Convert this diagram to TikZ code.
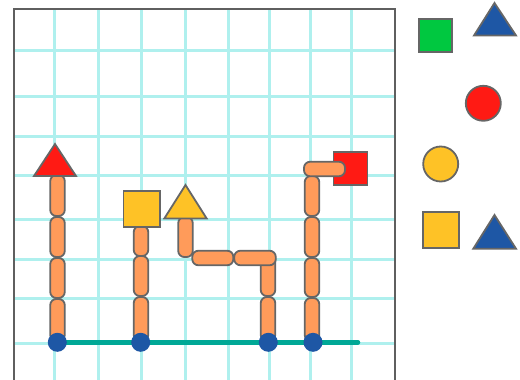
\documentclass[tikz,border=0pt]{standalone}
\definecolor{gridc}{RGB}{175,240,238}
\definecolor{framec}{RGB}{95,95,95}
\definecolor{edgec}{RGB}{102,102,102}
\definecolor{redc}{RGB}{255,26,20}
\definecolor{yelc}{RGB}{254,194,38}
\definecolor{orc}{RGB}{255,155,90}
\definecolor{bluec}{RGB}{30,87,165}
\definecolor{greenc}{RGB}{0,200,64}
\definecolor{tealc}{RGB}{0,168,150}
\tikzset{
  pillv/.style={draw=edgec,fill=orc,line width=1.8pt,rounded corners=6pt,minimum width=14.5pt,inner sep=0pt,outer sep=0pt},
  pillh/.style={draw=edgec,fill=orc,line width=1.8pt,rounded corners=6pt,minimum height=14.5pt,inner sep=0pt,outer sep=0pt},
  sq/.style={draw=edgec,line width=1.8pt,inner sep=0pt,outer sep=0pt},
  circ/.style={circle,draw=edgec,line width=1.8pt,inner sep=0pt,minimum size=35pt},
  tri/.style={draw=edgec,line width=1.8pt,line join=miter},
  dot/.style={circle,fill=bluec,inner sep=0pt,minimum size=19pt},
  gridline/.style={draw=gridc,line width=3pt}
}
\begin{document}
\begin{tikzpicture}[x=1pt,y=-1pt]
\useasboundingbox (0,0) rectangle (520,380);
% grid
\foreach \gx in {54,98,141,185,228,269,310,351}
  \draw[gridline] (\gx,9) -- (\gx,380);
\foreach \gy in {50,96,136,175,219,259,298,343}
  \draw[gridline] (14,\gy) -- (395,\gy);
% frame
\draw[framec,line width=2.6pt] (14,385) -- (14,9) -- (395,9) -- (395,385);
% teal baseline
\coordinate (t0) at (57,342.3);
\coordinate (t1) at (358,342.3);
\draw[tealc,line width=4.5pt,line cap=round] (t0) -- (t1);
% column 1
\node[pillv,minimum height=41pt] (a1) at (57.5,195.5) {};
\node[pillv,minimum height=40pt] (a2) at (57.5,237) {};
\node[pillv,minimum height=40pt] (a3) at (57.5,278) {};
\node[pillv,minimum height=42pt] (a4) at (57.5,320) {};
\draw[tri,fill=redc] (34,176) coordinate (r1) -- (55,144) coordinate (r2) -- (76,176) coordinate (r3) -- cycle;
% column 2
\node[pillv,minimum height=30pt] (b1) at (141,241) {};
\node[pillv,minimum height=40pt] (b2) at (141,276) {};
\node[pillv,minimum height=44pt] (b3) at (141,319) {};
\node[sq,fill=yelc,minimum size=36.5pt] (bs) at (141.8,209) {};
% yellow triangle branch
\node[pillv,minimum height=40pt] (c1) at (185.5,237) {};
\node[pillv,minimum height=44pt] (d1) at (268,274) {};
\node[pillv,minimum height=44pt] (d2) at (268,319) {};
\node[pillh,minimum width=41pt] (c2) at (212.8,258) {};
\node[pillh,minimum width=41.5pt] (c3) at (255,258) {};
\draw[tri,fill=yelc] (164.3,218.5) coordinate (y1) -- (185.5,185) coordinate (y2) -- (206.7,218.5) coordinate (y3) -- cycle;
% column 4
\node[sq,fill=redc,minimum width=34pt,minimum height=33.5pt] (es) at (350.5,168.5) {};
\node[pillv,minimum height=40pt] (e1) at (312,196) {};
\node[pillv,minimum height=40pt] (e2) at (312,237) {};
\node[pillv,minimum height=39pt] (e3) at (312,277.5) {};
\node[pillv,minimum height=43pt] (e4) at (312,319.5) {};
\node[pillh,minimum width=41pt] (e5) at (324.5,169) {};
% dots
\node[dot] (n1) at (57.3,342.3) {};
\node[dot] (n2) at (140.7,342.3) {};
\node[dot] (n3) at (268.3,342.3) {};
\node[dot] (n4) at (313,342.3) {};
% right side shapes
\node[sq,fill=greenc,minimum size=33pt] (g1) at (435.7,35.5) {};
\draw[tri,fill=bluec] (474,35.5) coordinate (u1) -- (494.5,3) coordinate (u2) -- (516,35.5) coordinate (u3) -- cycle;
\node[circ,fill=redc] (rc) at (483.3,103.3) {};
\node[circ,fill=yelc] (yc) at (440.7,164) {};
\node[sq,fill=yelc,minimum size=36pt] (ys) at (440.7,230) {};
\draw[tri,fill=bluec] (473.3,248.7) coordinate (v1) -- (494.5,215) coordinate (v2) -- (516,248.7) coordinate (v3) -- cycle;
\end{tikzpicture}
\end{document}
